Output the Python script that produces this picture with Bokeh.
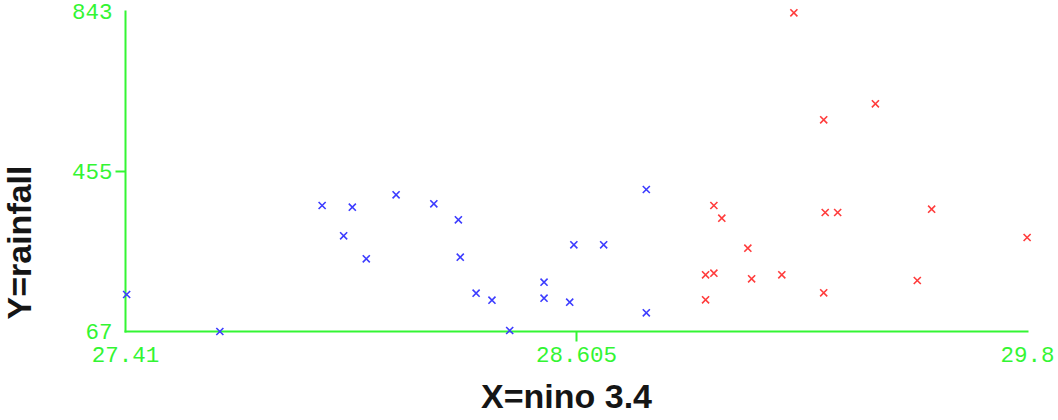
import math
from bokeh.plotting import figure
from bokeh.models import Range1d, FixedTicker, LinearAxis
from bokeh.core.properties import value
from bokeh.embed import file_html
from bokeh.resources import INLINE

# ---- data ----
blue_x = [27.413, 27.660, 27.931, 27.988, 28.011, 28.048, 28.127, 28.227, 28.292, 28.297,
          28.339, 28.381, 28.428, 28.519, 28.519, 28.587, 28.598, 28.677, 28.790, 28.790]
blue_y = [156.7, 67.0, 372.5, 299.0, 368.4, 243.3, 398.5, 376.7, 337.9, 247.2,
          159.9, 142.9, 69.4, 186.6, 147.8, 138.1, 277.2, 277.2, 411.4, 112.3]
red_x = [29.181, 29.397, 29.260, 28.969, 28.990, 29.059, 28.947, 28.969, 29.069,
         29.149, 28.947, 29.264, 29.297, 29.260, 29.546, 29.508, 29.799]
red_y = [839.9, 619.2, 580.4, 372.5, 341.8, 269.0, 204.5, 208.4, 194.8,
         204.5, 143.9, 355.6, 355.6, 160.8, 363.6, 190.7, 295.0]

x_ticks = [27.41, 28.605, 29.8]
x_tick_labels = ["27.41", "28.605", "29.8"]
y_ticks = [67, 455, 843]
y_tick_labels = ["67", "455", "843"]
x_title = "X=nino 3.4"
y_title = "Y=rainfall"

# ---- layout ----
W, H = 1058, 420
B_LEFT, B_RIGHT, B_TOP, B_BOTTOM = 125, 31, 11, 89
GREEN = "#33f533"
TICK = 10  # px

p = figure(width=W, height=H, output_backend="svg", toolbar_location=None,
           x_range=Range1d(x_ticks[0], x_ticks[-1]),
           y_range=Range1d(y_ticks[0], y_ticks[-1]),
           x_axis_type=None, y_axis_type=None,
           min_border_left=B_LEFT, min_border_right=B_RIGHT,
           min_border_top=B_TOP, min_border_bottom=B_BOTTOM)
p.outline_line_color = None
p.background_fill_color = "white"
p.border_fill_color = "white"

# data units per screen pixel
xu = (x_ticks[-1] - x_ticks[0]) / (W - B_LEFT - B_RIGHT)
yu = (y_ticks[-1] - y_ticks[0]) / (H - B_TOP - B_BOTTOM)
x0, y0 = x_ticks[0], y_ticks[0]

# axis lines and the inner tick marks ("guide" level: not clipped at the frame)
p.segment(x0=[x0, x0], y0=[y0, y0], x1=[x_ticks[-1], x0], y1=[y0, y_ticks[-1]],
          line_color=GREEN, line_width=2, line_cap="square", level="guide")
p.segment(x0=[x_ticks[1], x0], y0=[y0, y_ticks[1]],
          x1=[x_ticks[1], x0 - TICK * xu], y1=[y0 - TICK * yu, y_ticks[1]],
          line_color=GREEN, line_width=2, level="guide")

p.scatter(blue_x, blue_y, marker="x", size=10, line_color="#3c3cff", line_width=1.6,
          level="guide")
p.scatter(red_x, red_y, marker="x", size=10, line_color="#ff3c3c", line_width=1.6,
          level="guide")


def label_axis(ticks, labels, standoff):
    return LinearAxis(ticker=FixedTicker(ticks=ticks),
                      major_label_overrides={t: l for t, l in zip(ticks, labels)},
                      axis_line_color=None, major_tick_line_color=None,
                      minor_tick_line_color=None, major_tick_in=0, major_tick_out=TICK,
                      major_label_standoff=standoff,
                      major_label_text_color=GREEN,
                      major_label_text_font="Liberation Mono",
                      major_label_text_font_size="22.5px")


p.add_layout(label_axis(x_ticks, x_tick_labels, 5), "below")
p.add_layout(label_axis(y_ticks, y_tick_labels, 3), "left")

# axis titles, placed where the reference shows them
title_style = dict(text_font=value("Liberation Sans"), text_font_style="bold",
                   text_font_size="34px", text_color="#151515",
                   text_align="center", text_baseline="middle", level="guide")
p.text(x=[x0 + (566 - B_LEFT) * xu], y=[y0 - (395 - (H - B_BOTTOM)) * yu],
       text=[x_title], **title_style)
p.text(x=[x0 - (B_LEFT - 18) * xu], y=[y0 + ((H - B_BOTTOM) - 242) * yu],
       text=[y_title], angle=math.pi / 2, **title_style)

open("out.html", "w").write(file_html(p, INLINE))
